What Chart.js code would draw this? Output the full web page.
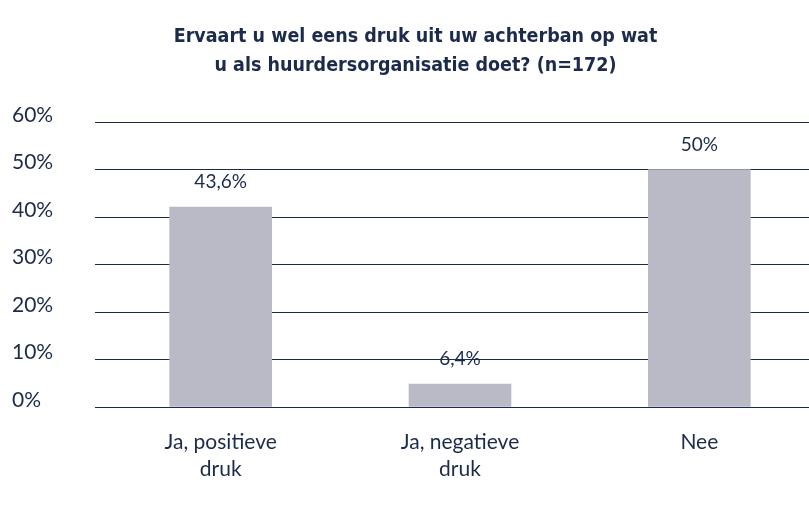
<!DOCTYPE html>
<html>
<head>
<meta charset="utf-8">
<script src="https://cdn.jsdelivr.net/npm/chart.js@4"></script>
<style>
  html, body { margin: 0; padding: 0; background: #fff; overflow: hidden; }
</style>
</head>
<body>
<canvas id="drukChart" width="819" height="511"></canvas>
<script>
// data
const categories = [["Ja, positieve", "druk"], ["Ja, negatieve", "druk"], "Nee"];
const barValues = [42.1, 4.8, 50];
const valueLabels = ["43,6%", "6,4%", "50%"];
const yTicks = [0, 10, 20, 30, 40, 50, 60];
const titleLines = ["Ervaart u wel eens druk uit uw achterban op wat", "u als huurdersorganisatie doet? (n=172)"];

const navy = "#1c2b4b";
const bodyFont = "Lato, sans-serif";

// draws the value above each bar
const valueLabelPlugin = {
    id: "valueLabels",
    afterDatasetsDraw(chart) {
        const ctx = chart.ctx;
        const meta = chart.getDatasetMeta(0);
        ctx.save();
        ctx.font = "19px " + bodyFont;
        ctx.fillStyle = navy;
        ctx.textAlign = "center";
        ctx.textBaseline = "middle";
        meta.data.forEach((bar, i) => {
            ctx.fillText(valueLabels[i], bar.x, bar.y - 25);
        });
        ctx.restore();
    }
};

const ctx = document.getElementById("drukChart").getContext("2d");
new Chart(ctx, {
    type: "bar",
    data: {
        labels: categories,
        datasets: [{
            data: barValues,
            backgroundColor: "#b9bac6",
            barThickness: 102
        }]
    },
    options: {
        responsive: false,
        animation: false,
        layout: {
            padding: { left: 12, right: 0, top: 0, bottom: 0 }
        },
        plugins: {
            legend: { display: false },
            tooltip: { enabled: false },
            title: {
                display: true,
                text: titleLines,
                color: navy,
                font: { family: "'Liberation Sans Narrow', 'DejaVu Sans Condensed', sans-serif", size: 19.5, weight: "bold", lineHeight: "29px" },
                padding: { top: 22, bottom: 42 }
            }
        },
        scales: {
            y: {
                min: 0,
                max: 60,
                afterBuildTicks: scale => {
                    scale.ticks = yTicks.map(v => ({ value: v }));
                },
                afterFit: scale => {
                    scale.width = 89;
                },
                border: { display: false },
                grid: {
                    color: navy,
                    lineWidth: 1,
                    drawTicks: true,
                    tickLength: 6
                },
                ticks: {
                    crossAlign: "far",
                    labelOffset: -7,
                    color: navy,
                    font: { family: bodyFont, size: 21 },
                    callback: v => v + "%"
                }
            },
            x: {
                afterFit: scale => {
                    scale.height = 104;
                },
                border: { display: false },
                grid: { display: false },
                ticks: {
                    color: navy,
                    padding: 14,
                    maxRotation: 0,
                    font: { family: bodyFont, size: 21, lineHeight: "27px" }
                }
            }
        }
    },
    plugins: [valueLabelPlugin]
});
</script>
</body>
</html>
